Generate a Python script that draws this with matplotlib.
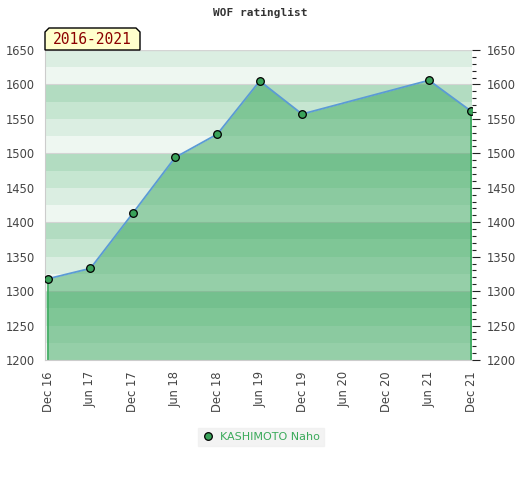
import matplotlib
matplotlib.use("Agg")
import matplotlib.pyplot as plt
from matplotlib.patches import Polygon
import numpy as np

# ---- data ----
tick_labels = ["Dec 16", "Jun 17", "Dec 17", "Jun 18", "Dec 18", "Jun 19",
               "Dec 19", "Jun 20", "Dec 20", "Jun 21", "Dec 21"]
tick_months = [0, 6, 12, 18, 24, 30, 36, 42, 48, 54, 60]
point_months = [0, 6, 12, 18, 24, 30, 36, 54, 60]
ratings = [1318, 1333, 1413, 1494, 1528, 1605, 1557, 1606, 1561]
player = "KASHIMOTO Naho"
period = "2016-2021"
title = "WOF ratinglist"

W, H = 520, 480
fig = plt.figure(figsize=(W / 100, H / 100), dpi=100)
L, R, T, B = 45, 472, 50, 360
ax = fig.add_axes([L / W, 1 - B / H, (R - L) / W, (B - T) / H])

ymin, ymax = 1200, 1650
ax.set_ylim(ymin, ymax)
ax.set_xlim(-0.45, 60.1)

# background stripes (25-unit bands, 4-band cycle)
band_cols = ["#eef7f1", "#dbeee2", "#c6e6d1", "#b2dcc1"]
for i, y0 in enumerate(range(ymin, ymax, 25)):
    ax.axhspan(y0, y0 + 25, color=band_cols[i % 4], lw=0, zorder=0)
for y in range(1300, 1650, 100):
    ax.axhline(y, color="#d4d4d4", lw=0.8, zorder=0.5)
ax.axhline(ymax, color="#d4d4d4", lw=1.0, zorder=0.5)

# fill and line
ax.fill_between(point_months, ratings, ymin, color="#2a9f50", alpha=0.45,
                lw=0, zorder=1)
ax.vlines([point_months[0], point_months[-1]], ymin,
          [ratings[0], ratings[-1]], color="#36a85a", lw=1.2, zorder=2)
ax.plot(point_months, ratings, color="#5b9bd5", lw=1.3, zorder=3)
ax.plot(point_months, ratings, "o", ms=5.5, mfc="#3aa35a", mec="black",
        mew=0.9, zorder=4, ls="none")

# axes styling
for s in ["top", "right"]:
    ax.spines[s].set_visible(False)
ax.spines["left"].set_color("#cccccc")
ax.spines["bottom"].set_color("#cccccc")
ax.set_yticks(range(ymin, ymax + 1, 50))
ax.tick_params(axis="y", length=0, labelsize=8.3, labelcolor="#444444", pad=7)
ax.set_xticks(tick_months)
ax.set_xticklabels(tick_labels, rotation=90)
ax.tick_params(axis="x", length=0, labelsize=8.3, labelcolor="#444444", pad=8)

ax2 = ax.twinx()
ax2.set_ylim(ymin, ymax)
for s in ["top", "left", "bottom", "right"]:
    ax2.spines[s].set_visible(False)
ax2.set_yticks(range(ymin, ymax + 1, 50))
ax2.set_yticks(range(ymin, ymax + 1, 10), minor=True)
ax2.tick_params(axis="y", which="major", length=6, width=0.8, color="#222222",
                labelsize=8.3, labelcolor="#444444", pad=5)
ax2.tick_params(axis="y", which="minor", length=3, width=0.8, color="#222222")

# title
fig.text(260 / W, 1 - 13 / H, title, ha="center", va="center",
         family="DejaVu Sans Mono", weight="bold", fontsize=8, color="#333333")

# period label box with cut corners
bx0, bx1, by0, by1, c = 45, 140, 50, 28, 4
pts = [(bx0, by0), (bx0, by1 + c), (bx0 + c, by1), (bx1 - c, by1),
       (bx1, by1 + c), (bx1, by0)]
pts = [(x / W, 1 - y / H) for x, y in pts]
fig.patches.append(Polygon(pts, closed=True, transform=fig.transFigure,
                           facecolor="#ffffcc", edgecolor="black", lw=1.0,
                           figure=fig, zorder=5))
fig.text((bx0 + bx1) / 2 / W, 1 - 40 / H, period, ha="center", va="center",
         family="DejaVu Sans Mono", fontsize=10.5, color="#8b0000", zorder=6)

# legend
leg = fig.legend(handles=[plt.Line2D([], [], marker="o", ls="none", ms=5.5,
                                     mfc="#3aa35a", mec="black", mew=0.9)],
                 labels=[player], loc="center", bbox_to_anchor=(261 / W, 1 - 437 / H),
                 frameon=True, fontsize=8, handletextpad=0.6, borderpad=0.4,
                 handlelength=1.0, fancybox=False)
leg.get_frame().set_facecolor("#f0f0f0")
leg.get_frame().set_edgecolor("#f0f0f0")
for t in leg.get_texts():
    t.set_color("#3aaa5a")

fig.savefig("out.png", dpi=100)
